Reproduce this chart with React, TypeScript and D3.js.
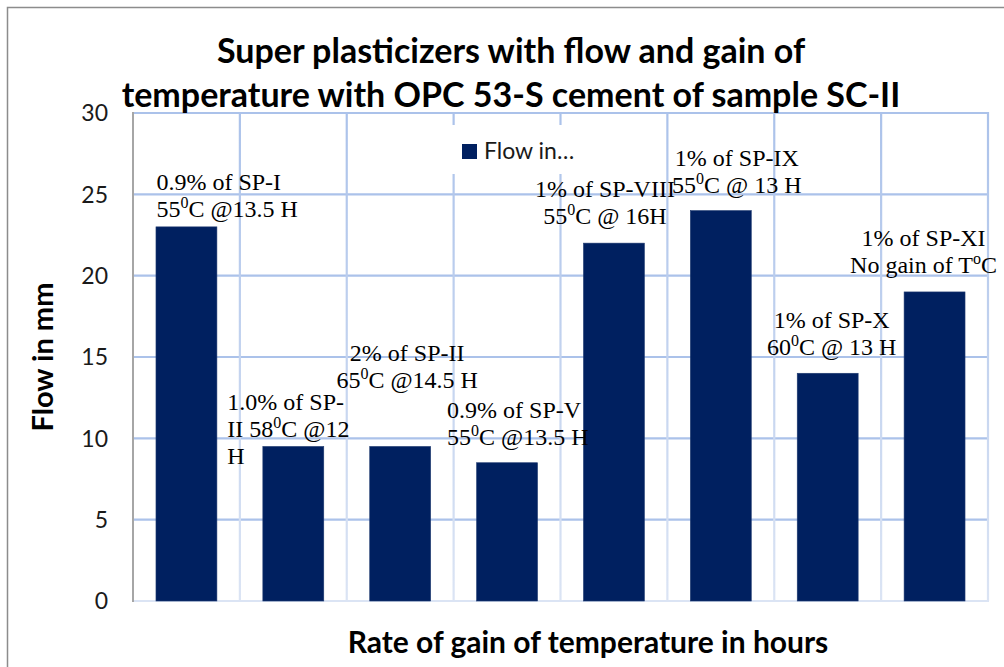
import React from "react";
import * as d3 from "d3";

// data
const categories = ["SP-I", "SP-II (1.0%)", "SP-II (2%)", "SP-V", "SP-VIII", "SP-IX", "SP-X", "SP-XI"];
const flowMm = [23, 9.5, 9.5, 8.5, 22, 24, 14, 19];
const labelLines = [
  ["0.9% of SP-I", "55{0}C @13.5 H"],
  ["1.0% of SP-", "II 58{0}C @12", "H"],
  ["2% of SP-II", "65{0}C @14.5 H"],
  ["0.9% of SP-V", "55{0}C @13.5 H"],
  ["1% of SP-VIII", "55{0}C @ 16H"],
  ["1% of SP-IX", "55{0}C @ 13 H"],
  ["1% of SP-X", "60{0}C @ 13 H"],
  ["1% of SP-XI", "No gain of T{o}C"],
];
const yTicks = [0, 5, 10, 15, 20, 25, 30];
const titleLines = [
  "Super plasticizers with flow and gain of",
  "temperature with OPC 53-S cement of sample SC-II",
];
const legendText = "Flow in…";

// manual label placement (Excel labels were dragged around)
const labelLayout = [
  { anchor: "start", dx: -30, dy: -37 },
  { anchor: "start", dx: -66, dy: -36 },
  { anchor: "middle", dx: 7, dy: -85 },
  { anchor: "start", dx: -60, dy: -45 },
  { anchor: "middle", dx: -9, dy: -46 },
  { anchor: "middle", dx: 16, dy: -45 },
  { anchor: "middle", dx: 4, dy: -45 },
  { anchor: "middle", dx: -11, dy: -46 },
];

const W = 1004;
const H = 667;
const plot = { left: 133, right: 988, top: 113, bottom: 601 };
const sans = "Lato, 'Open Sans', sans-serif";
const serif = "'Liberation Serif', 'Times New Roman', serif";
const barColor = "#002060";
const gridColor = "#abc2ea";

const Line = ({ text }: { text: string }) => {
  const parts = text.split(/\{(.*?)\}/);
  return (
    <>
      {parts.map((p, i) =>
        i % 2 === 1 ? (
          <tspan key={i} dy={-9} fontSize={16}>
            {p}
          </tspan>
        ) : (
          <tspan key={i} dy={i > 0 ? 9 : 0}>
            {p}
          </tspan>
        )
      )}
    </>
  );
};

export default function App() {
  const x = d3
    .scaleBand()
    .domain(categories)
    .range([plot.left, plot.right])
    .paddingInner(0.43)
    .paddingOuter(0.215);
  const y = d3.scaleLinear().domain([0, 30]).range([plot.bottom, plot.top]);

  const step = x.step();
  // right edge of each category slot
  const slotRight = (i: number) => x(categories[i])! - (step * x.paddingInner()) / 2 + step;

  return (
    <svg
      width={W}
      height={H}
      style={{ position: "absolute", left: 0, top: 0, background: "#fff" }}
    >
      <defs>
        <linearGradient id="vgrid" gradientUnits="userSpaceOnUse" x1="0" y1={plot.top} x2="0" y2={plot.bottom}>
          <stop offset="0" stopColor={gridColor} />
          <stop offset="1" stopColor="#dbe4f4" />
        </linearGradient>
      </defs>
      {/* outer chart border */}
      <rect x={7.5} y={7.5} width={W + 20} height={H + 20} fill="none" stroke="#8c8c8c" strokeWidth={1.5} />

      {/* horizontal grid */}
      {yTicks.slice(1).map((t) => (
        <line key={t} x1={plot.left} x2={plot.right + 1} y1={y(t)} y2={y(t)} stroke={gridColor} strokeWidth={2.2} />
      ))}
      {/* vertical grid at category boundaries */}
      {categories.map((c, i) => {
        const gx = slotRight(i);
        return (
          <line key={c} x1={gx} x2={gx} y1={plot.top - 1} y2={plot.bottom} stroke="url(#vgrid)" strokeWidth={2.2} />
        );
      })}
      {/* x axis baseline */}
      <line x1={plot.left} x2={plot.right + 1} y1={plot.bottom} y2={plot.bottom} stroke="#dbe4f4" strokeWidth={2} />
      {/* y axis line */}
      <line x1={plot.left} x2={plot.left} y1={plot.top - 1} y2={plot.bottom + 1} stroke="#a6a6a6" strokeWidth={2} />

      {/* bars */}
      {flowMm.map((v, i) => (
        <rect
          key={i}
          x={x(categories[i])}
          y={y(v)}
          width={x.bandwidth()}
          height={y(0) - y(v)}
          fill={barColor}
          stroke="#1f3a70"
          strokeWidth={0.6}
        />
      ))}

      {/* y tick labels */}
      {yTicks.map((t) => (
        <text key={t} x={108} y={y(t)} dy="0.36em" textAnchor="end" fontFamily={sans} fontSize={23} fill="#1a1a1a">
          {t}
        </text>
      ))}

      {/* legend */}
      <rect x={448} y={125} width={140} height={49} fill="#fff" />
      <rect x={462} y={144} width={15} height={15} fill={barColor} />
      <text x={484} y={159} fontFamily={sans} fontSize={23} fill="#1a1a1a">
        {legendText}
      </text>

      {/* data labels */}
      {flowMm.map((v, i) => {
        const cx = x(categories[i])! + x.bandwidth() / 2 + labelLayout[i].dx;
        const by = y(v) + labelLayout[i].dy;
        return (
          <text
            key={i}
            fontFamily={serif}
            fontSize={24}
            fill="#000"
            textAnchor={labelLayout[i].anchor}
          >
            {labelLines[i].map((ln, j) => (
              <tspan key={j} x={cx} y={by + j * 27}>
                <Line text={ln} />
              </tspan>
            ))}
          </text>
        );
      })}

      {/* title */}
      {titleLines.map((t, i) => (
        <text key={i} x={511} y={63 + i * 44} textAnchor="middle" fontFamily={sans} fontWeight={700} fontSize={34} fill="#000">
          {t}
        </text>
      ))}

      {/* axis titles */}
      <text
        transform={`translate(53,${(plot.top + plot.bottom) / 2})`}
        textAnchor="middle"
        fontFamily={sans}
        fontWeight={700}
        fontSize={29}
        fill="#000"
      >
        <tspan transform="rotate(-90)" />
      </text>
      <text
        transform={`translate(53,${(plot.top + plot.bottom) / 2}) rotate(-90)`}
        textAnchor="middle"
        fontFamily={sans}
        fontWeight={700}
        fontSize={29}
        fill="#000"
      >
        Flow in mm
      </text>
      <text x={588} y={653} textAnchor="middle" fontFamily={sans} fontWeight={700} fontSize={30} fill="#000">
        Rate of gain of temperature in hours
      </text>
    </svg>
  );
}
